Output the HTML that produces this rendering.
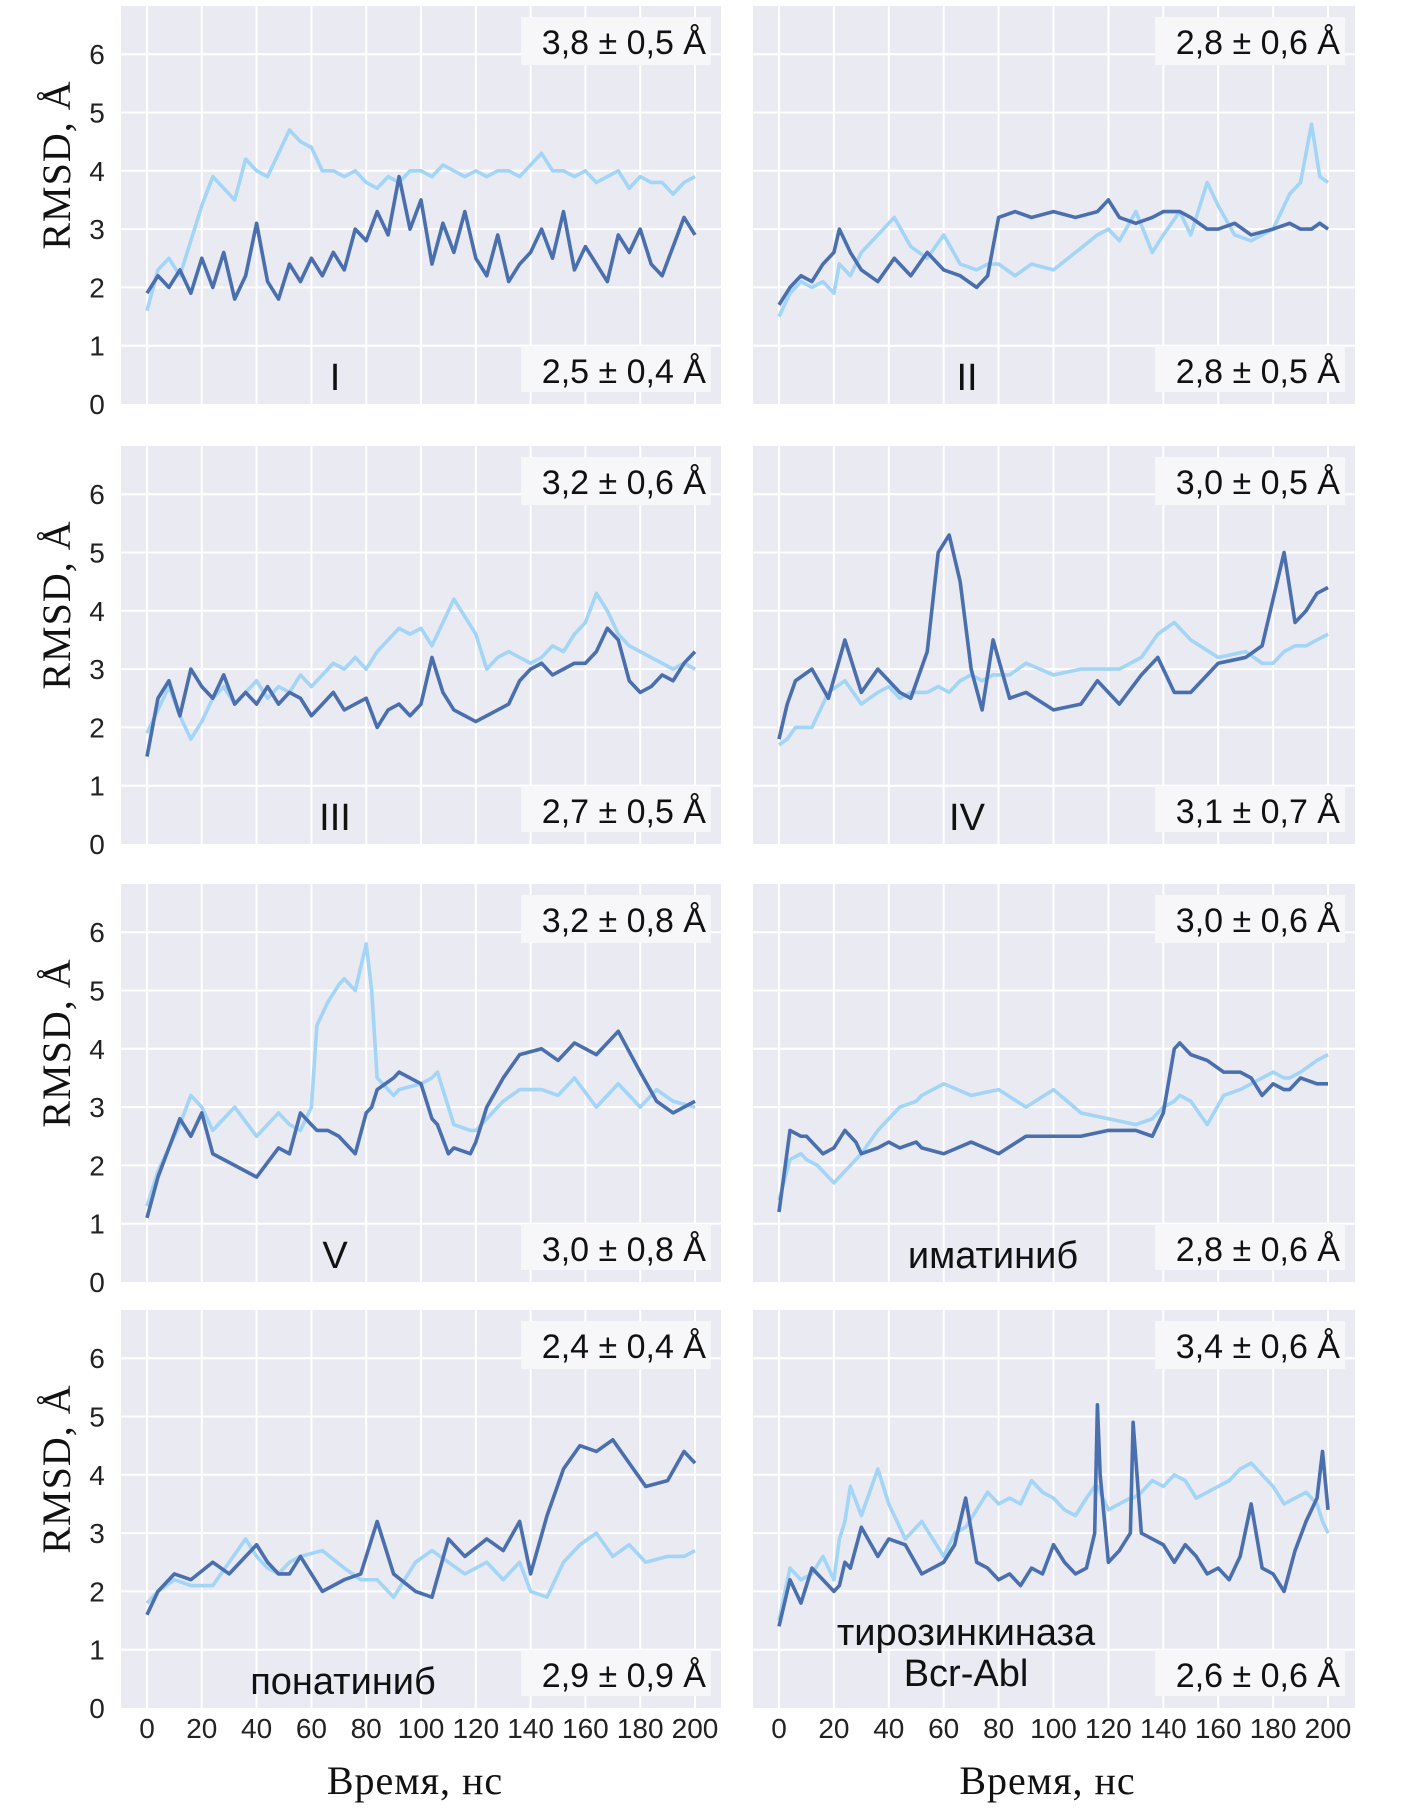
<!DOCTYPE html>
<html><head><meta charset="utf-8"><style>
body{margin:0;background:#fff}
svg{display:block}
.tk{font-family:"Liberation Sans",sans-serif;font-size:28px;fill:#222}
.st{font-family:"Liberation Sans",sans-serif;font-size:34px;fill:#111}
.lb{font-family:"Liberation Sans",sans-serif;font-size:38px;fill:#111}
.ax{font-family:"Liberation Serif",serif;font-size:40px;fill:#111;letter-spacing:1px}
</style></head><body>
<svg id="fig" width="1401" height="1816" viewBox="0 0 1401 1816"></svg>
<script>
const xTicks=[0,20,40,60,80,100,120,140,160,180,200];
const yTicks=[0,1,2,3,4,5,6];
const panelLabels=[["I"],["II"],["III"],["IV"],["V"],["иматиниб"],["понатиниб"],["тирозинкиназа","Bcr-Abl"]];
const topStats=["3,8 ± 0,5 Å","2,8 ± 0,6 Å","3,2 ± 0,6 Å","3,0 ± 0,5 Å","3,2 ± 0,8 Å","3,0 ± 0,6 Å","2,4 ± 0,4 Å","3,4 ± 0,6 Å"];
const botStats=["2,5 ± 0,4 Å","2,8 ± 0,5 Å","2,7 ± 0,5 Å","3,1 ± 0,7 Å","3,0 ± 0,8 Å","2,8 ± 0,6 Å","2,9 ± 0,9 Å","2,6 ± 0,6 Å"];
const t4=[0,4,8,12,16,20,24,28,32,36,40,44,48,52,56,60,64,68,72,76,80,84,88,92,96,100,104,108,112,116,120,124,128,132,136,140,144,148,152,156,160,164,168,172,176,180,184,188,192,196,200];
const darkI=[1.9,2.2,2.0,2.3,1.9,2.5,2.0,2.6,1.8,2.2,3.1,2.1,1.8,2.4,2.1,2.5,2.2,2.6,2.3,3.0,2.8,3.3,2.9,3.9,3.0,3.5,2.4,3.1,2.6,3.3,2.5,2.2,2.9,2.1,2.4,2.6,3.0,2.5,3.3,2.3,2.7,2.4,2.1,2.9,2.6,3.0,2.4,2.2,2.7,3.2,2.9];
const lightI=[1.6,2.3,2.5,2.2,2.8,3.4,3.9,3.7,3.5,4.2,4.0,3.9,4.3,4.7,4.5,4.4,4.0,4.0,3.9,4.0,3.8,3.7,3.9,3.8,4.0,4.0,3.9,4.1,4.0,3.9,4.0,3.9,4.0,4.0,3.9,4.1,4.3,4.0,4.0,3.9,4.0,3.8,3.9,4.0,3.7,3.9,3.8,3.8,3.6,3.8,3.9];
const tII=[0,4,8,12,16,20,22,26,30,36,42,48,54,60,66,72,76,80,86,92,100,108,116,120,124,130,136,140,146,150,156,160,166,172,180,186,190,194,197,200];
const darkII=[1.7,2.0,2.2,2.1,2.4,2.6,3.0,2.6,2.3,2.1,2.5,2.2,2.6,2.3,2.2,2.0,2.2,3.2,3.3,3.2,3.3,3.2,3.3,3.5,3.2,3.1,3.2,3.3,3.3,3.2,3.0,3.0,3.1,2.9,3.0,3.1,3.0,3.0,3.1,3.0];
const lightII=[1.5,1.9,2.1,2.0,2.1,1.9,2.4,2.2,2.6,2.9,3.2,2.7,2.5,2.9,2.4,2.3,2.4,2.4,2.2,2.4,2.3,2.6,2.9,3.0,2.8,3.3,2.6,2.9,3.3,2.9,3.8,3.4,2.9,2.8,3.0,3.6,3.8,4.8,3.9,3.8];
const tIII=[0,4,8,12,16,20,24,28,32,36,40,44,48,52,56,60,64,68,72,76,80,84,88,92,96,100,104,108,112,116,120,124,128,132,136,140,144,148,152,156,160,164,168,172,176,180,184,188,192,196,200];
const darkIII=[1.5,2.5,2.8,2.2,3.0,2.7,2.5,2.9,2.4,2.6,2.4,2.7,2.4,2.6,2.5,2.2,2.4,2.6,2.3,2.4,2.5,2.0,2.3,2.4,2.2,2.4,3.2,2.6,2.3,2.2,2.1,2.2,2.3,2.4,2.8,3.0,3.1,2.9,3.0,3.1,3.1,3.3,3.7,3.5,2.8,2.6,2.7,2.9,2.8,3.1,3.3];
const lightIII=[1.9,2.3,2.7,2.2,1.8,2.1,2.5,2.7,2.4,2.6,2.8,2.5,2.7,2.6,2.9,2.7,2.9,3.1,3.0,3.2,3.0,3.3,3.5,3.7,3.6,3.7,3.4,3.8,4.2,3.9,3.6,3.0,3.2,3.3,3.2,3.1,3.2,3.4,3.3,3.6,3.8,4.3,4.0,3.6,3.4,3.3,3.2,3.1,3.0,3.1,3.0];
const tIV=[0,3,6,12,18,24,30,36,40,44,48,54,58,62,66,70,74,78,84,90,100,110,116,124,132,138,144,150,160,170,176,180,184,188,192,196,200];
const darkIV=[1.8,2.4,2.8,3.0,2.5,3.5,2.6,3.0,2.8,2.6,2.5,3.3,5.0,5.3,4.5,3.0,2.3,3.5,2.5,2.6,2.3,2.4,2.8,2.4,2.9,3.2,2.6,2.6,3.1,3.2,3.4,4.2,5.0,3.8,4.0,4.3,4.4];
const lightIV=[1.7,1.8,2.0,2.0,2.6,2.8,2.4,2.6,2.7,2.5,2.6,2.6,2.7,2.6,2.8,2.9,2.8,2.9,2.9,3.1,2.9,3.0,3.0,3.0,3.2,3.6,3.8,3.5,3.2,3.3,3.1,3.1,3.3,3.4,3.4,3.5,3.6];
const tV=[0,4,8,12,16,20,24,32,40,48,52,56,60,62,66,70,72,76,80,82,84,90,92,100,104,106,110,112,118,120,124,130,136,144,150,156,164,172,180,186,192,200];
const darkV=[1.1,1.8,2.3,2.8,2.5,2.9,2.2,2.0,1.8,2.3,2.2,2.9,2.7,2.6,2.6,2.5,2.4,2.2,2.9,3.0,3.3,3.5,3.6,3.4,2.8,2.7,2.2,2.3,2.2,2.4,3.0,3.5,3.9,4.0,3.8,4.1,3.9,4.3,3.6,3.1,2.9,3.1];
const lightV=[1.3,1.9,2.3,2.7,3.2,3.0,2.6,3.0,2.5,2.9,2.7,2.6,3.0,4.4,4.8,5.1,5.2,5.0,5.8,5.0,3.5,3.2,3.3,3.4,3.5,3.6,3.0,2.7,2.6,2.6,2.8,3.1,3.3,3.3,3.2,3.5,3.0,3.4,3.0,3.3,3.1,3.0];
const tImat=[0,4,8,10,14,16,20,24,28,30,36,40,44,50,52,60,70,80,90,100,110,120,130,136,140,144,146,150,156,162,168,172,176,180,184,186,190,196,200];
const darkImat=[1.2,2.6,2.5,2.5,2.3,2.2,2.3,2.6,2.4,2.2,2.3,2.4,2.3,2.4,2.3,2.2,2.4,2.2,2.5,2.5,2.5,2.6,2.6,2.5,2.9,4.0,4.1,3.9,3.8,3.6,3.6,3.5,3.2,3.4,3.3,3.3,3.5,3.4,3.4];
const lightImat=[1.4,2.1,2.2,2.1,2.0,1.9,1.7,1.9,2.1,2.2,2.6,2.8,3.0,3.1,3.2,3.4,3.2,3.3,3.0,3.3,2.9,2.8,2.7,2.8,3.0,3.1,3.2,3.1,2.7,3.2,3.3,3.4,3.5,3.6,3.5,3.5,3.6,3.8,3.9];
const tPon=[0,4,10,16,24,30,36,40,44,48,52,56,64,72,78,84,90,98,104,110,116,124,130,136,140,146,152,158,164,170,176,182,190,196,200];
const darkPon=[1.6,2.0,2.3,2.2,2.5,2.3,2.6,2.8,2.5,2.3,2.3,2.6,2.0,2.2,2.3,3.2,2.3,2.0,1.9,2.9,2.6,2.9,2.7,3.2,2.3,3.3,4.1,4.5,4.4,4.6,4.2,3.8,3.9,4.4,4.2];
const lightPon=[1.8,2.0,2.2,2.1,2.1,2.5,2.9,2.6,2.4,2.3,2.5,2.6,2.7,2.4,2.2,2.2,1.9,2.5,2.7,2.5,2.3,2.5,2.2,2.5,2.0,1.9,2.5,2.8,3.0,2.6,2.8,2.5,2.6,2.6,2.7];
const tAbl=[0,4,8,12,16,20,22,24,26,30,36,40,46,52,60,64,68,72,76,80,84,88,92,96,100,104,108,112,115,116,117,120,124,128,129,132,136,140,144,148,152,156,160,164,168,172,176,180,184,188,192,196,198,200];
const darkAbl=[1.4,2.2,1.8,2.4,2.2,2.0,2.1,2.5,2.4,3.1,2.6,2.9,2.8,2.3,2.5,2.8,3.6,2.5,2.4,2.2,2.3,2.1,2.4,2.3,2.8,2.5,2.3,2.4,3.0,5.2,4.0,2.5,2.7,3.0,4.9,3.0,2.9,2.8,2.5,2.8,2.6,2.3,2.4,2.2,2.6,3.5,2.4,2.3,2.0,2.7,3.2,3.6,4.4,3.4];
const lightAbl=[1.5,2.4,2.2,2.3,2.6,2.2,2.9,3.2,3.8,3.3,4.1,3.5,2.9,3.2,2.6,3.0,3.1,3.4,3.7,3.5,3.6,3.5,3.9,3.7,3.6,3.4,3.3,3.6,3.8,3.8,3.7,3.4,3.5,3.6,3.6,3.7,3.9,3.8,4.0,3.9,3.6,3.7,3.8,3.9,4.1,4.2,4.0,3.8,3.5,3.6,3.7,3.5,3.2,3.0];
const seriesT=[t4,tII,tIII,tIV,tV,tImat,tPon,tAbl];
const seriesDark=[darkI,darkII,darkIII,darkIV,darkV,darkImat,darkPon,darkAbl];
const seriesLight=[lightI,lightII,lightIII,lightIV,lightV,lightImat,lightPon,lightAbl];

const NS="http://www.w3.org/2000/svg";
const svg=document.getElementById("fig");
function mk(tag,attrs,parent){const e=document.createElementNS(NS,tag);for(const k in attrs)e.setAttribute(k,attrs[k]);(parent||svg).appendChild(e);return e;}
const defs=mk("defs",{});
const cp=mk("clipPath",{id:"pageclip"},defs);
mk("rect",{x:0,y:0,width:1357,height:1816},cp);

const colX=[{l:121,r:721,x0:147,x1:695},{l:753,r:1355,x0:779,x1:1328}];
const rowTop=[6,446,884,1310];
const PH=398,UNIT=58.3;

for(let p=0;p<8;p++){
  const c=colX[p%2], top=rowTop[Math.floor(p/2)];
  const g=mk("g",{});
  
  
  const xs=v=>c.x0+(c.x1-c.x0)*v/200;
  const ys=v=>top+PH-v*UNIT;
  const bg=mk("rect",{x:c.l,y:top,width:c.r-c.l,height:PH,fill:"#eaeaf2"},g);
  
  
  for(const t of xTicks){const ln=mk("line",{x1:xs(t),x2:xs(t),y1:top,y2:top+PH,stroke:"#fff","stroke-width":2},g);
    
    }
  for(const t of yTicks){if(t===0)continue;const ln=mk("line",{x1:c.l,x2:c.r,y1:ys(t),y2:ys(t),stroke:"#fff","stroke-width":2},g);
    
    }
  const T=seriesT[p];
  const pl=mk("polyline",{points:T.map((t,i)=>xs(t)+","+ys(seriesLight[p][i])).join(" "),fill:"none",stroke:"#a3d5f7","stroke-width":3.6,"stroke-linejoin":"round"},g);
  
  
  const pd=mk("polyline",{points:T.map((t,i)=>xs(t)+","+ys(seriesDark[p][i])).join(" "),fill:"none",stroke:"#4a6fae","stroke-width":3.6,"stroke-linejoin":"round"},g);
  
  
  const bx=c.r-200;
  const b1=mk("rect",{x:bx,y:top+11,width:190,height:48,fill:"#f7f7fa"},g);
  
  
  const s1=mk("text",{x:c.r-15,y:top+48,"text-anchor":"end",class:"st"},g);s1.textContent=topStats[p];
  
  
  const b2=mk("rect",{x:bx,y:top+340,width:190,height:46,fill:"#f7f7fa"},g);
  
  
  const s2=mk("text",{x:c.r-15,y:top+377,"text-anchor":"end",class:"st"},g);s2.textContent=botStats[p];
  
  
  const lcx=(p%2===0)?(p===6?343:335):(p===7?966:(p===5?993:967));
  const lines=panelLabels[p];
  lines.forEach((s,i)=>{
    const by=lines.length===1?top+384:top+335+i*41;
    const tx=mk("text",{x:lcx,y:by,"text-anchor":"middle",class:"lb"},g);tx.textContent=s;
    
    
  });
  if(p%2===0){
    for(const t of yTicks){const tx=mk("text",{x:97,y:ys(t)+10,"text-anchor":"middle",class:"tk"},g);tx.textContent=t;
      
      }
    const yl=mk("text",{x:0,y:0,"text-anchor":"middle",class:"ax",transform:`translate(70,${top+PH/2-40}) rotate(-90)`},g);yl.textContent="RMSD, Å";
    
    
  }
  if(p>=6){
    const xg=mk("g",{"clip-path":"url(#pageclip)"},g);
    for(const t of xTicks){const tx=mk("text",{x:xs(t),y:1738,"text-anchor":"middle",class:"tk"},xg);tx.textContent=t;
      
      }
    const xl=mk("text",{x:(c.x0+c.x1)/2-6,y:1794,"text-anchor":"middle",class:"ax"},g);xl.textContent="Время, нс";
    
    
  }
}
</script>
</body></html>
